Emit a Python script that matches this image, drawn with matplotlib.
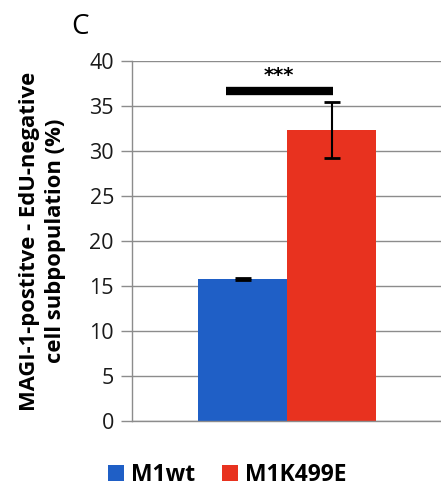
import matplotlib
matplotlib.use("Agg")
import matplotlib.pyplot as plt
from matplotlib.patches import Patch

groups = ["M1wt", "M1K499E"]
values = [15.75, 32.3]
errors = [0.1, 3.1]
colors = ["#1f5fc6", "#e8321f"]
yticks = [0, 5, 10, 15, 20, 25, 30, 35, 40]
sig_text = "***"
sig_level = 36.7
ylabel = "MAGI-1-postitve - EdU-negative\ncell subpopulation (%)"

plt.rcParams['font.family'] = ['Open Sans', 'DejaVu Sans']

fig = plt.figure(figsize=(4.41, 4.9), dpi=100)
ax = fig.add_axes([132/441, 1 - 421/490, 1 - 132/441, (421 - 61)/490])

pos = list(range(len(groups)))
ax.bar(pos, values, width=1.0, color=colors, zorder=2)
ax.errorbar(pos, values, yerr=errors, fmt='none', ecolor='black',
            elinewidth=1.5, capsize=6, capthick=2, zorder=3)

# significance bracket
ax.plot([-0.18, 1.02], [sig_level, sig_level], color='black', lw=6,
        solid_capstyle='butt', zorder=3)
ax.text(0.41, sig_level + 0.6, sig_text, ha='center', va='bottom',
        fontsize=14, fontweight='bold', family=['DejaVu Sans'])

ax.set_xlim(-1.2416, 2.23)
ax.set_ylim(0, 40)
ax.set_yticks(yticks)
ax.set_xticks([])
ax.yaxis.grid(True, color='#8c8c8c', lw=1, zorder=0)
ax.set_axisbelow(True)
for s in ['top', 'right']:
    ax.spines[s].set_visible(False)
for s in ['left', 'bottom']:
    ax.spines[s].set_color('#8c8c8c')
    ax.spines[s].set_linewidth(1)
ax.tick_params(axis='y', length=8, width=1, color='#8c8c8c',
               labelsize=15.5, labelcolor='#1a1a1a', pad=5)
ax.set_ylabel(ylabel, fontsize=15.8, fontweight='bold', linespacing=1.3)
ax.yaxis.set_label_coords(-0.215, 0.5)

fig.text(80/441, 1 - 27/490, "C", fontsize=20, ha='center', va='center')

handles = [Patch(facecolor=c, edgecolor='none', label=g)
           for g, c in zip(groups, colors)]
fig.legend(handles=handles, loc='center', bbox_to_anchor=(0.515, 1 - 475/490),
           ncol=2, frameon=False, handlelength=0.7, handleheight=0.7,
           handletextpad=0.3, columnspacing=1.2,
           prop={'size': 16.5, 'weight': 'bold'})

fig.savefig("out.png", dpi=100)
